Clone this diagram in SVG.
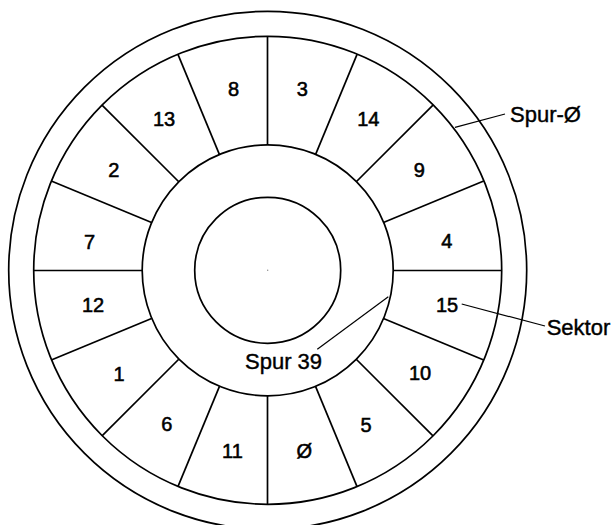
<svg xmlns="http://www.w3.org/2000/svg" width="614" height="525" viewBox="0 0 614 525">
<style>
.ln{fill:none;stroke:#000;stroke-width:1.7}
.th{fill:none;stroke:#000;stroke-width:1.2}
.num{font-family:"Liberation Sans",Arial,sans-serif;font-size:20px;fill:#000;stroke:#000;stroke-width:0.55;text-anchor:middle}
.lab{font-family:"Liberation Sans",Arial,sans-serif;font-size:22px;fill:#000;stroke:#000;stroke-width:0.4}
</style>
<rect width="614" height="525" fill="#fff"/>
<g id="disk">
<circle class="ln" cx="267.7" cy="270.3" r="259"/>
<circle class="ln" cx="267.7" cy="270.3" r="234"/>
<circle class="ln" cx="267.7" cy="270.3" r="125.5"/>
<circle class="ln" cx="267.7" cy="270.3" r="73"/>
<circle cx="267.7" cy="270.3" r="0.7" fill="#888"/>
</g>
<g id="dividers" class="ln">
<line x1="267.5" y1="145" x2="267.5" y2="36.5"/>
<line x1="315.53" y1="154.55" x2="357.05" y2="54.31"/>
<line x1="356.24" y1="181.76" x2="432.96" y2="105.04"/>
<line x1="383.45" y1="222.47" x2="483.69" y2="180.95"/>
<line x1="393" y1="270.5" x2="501.5" y2="270.5"/>
<line x1="383.45" y1="318.53" x2="483.69" y2="360.05"/>
<line x1="356.24" y1="359.24" x2="432.96" y2="435.96"/>
<line x1="315.53" y1="386.45" x2="357.05" y2="486.69"/>
<line x1="267.5" y1="396" x2="267.5" y2="504.5"/>
<line x1="219.47" y1="386.45" x2="177.95" y2="486.69"/>
<line x1="178.76" y1="359.24" x2="102.04" y2="435.96"/>
<line x1="151.55" y1="318.53" x2="51.31" y2="360.05"/>
<line x1="142" y1="270.5" x2="33.5" y2="270.5"/>
<line x1="151.55" y1="222.47" x2="51.31" y2="180.95"/>
<line x1="178.76" y1="181.76" x2="102.04" y2="105.04"/>
<line x1="219.47" y1="154.55" x2="177.95" y2="54.31"/>
</g>
<g id="s3"><text class="num" x="302.3" y="96">3</text></g>
<g id="s14"><text class="num" x="368.3" y="126">14</text></g>
<g id="s9"><text class="num" x="419.3" y="176.5">9</text></g>
<g id="s4"><text class="num" x="446.8" y="248">4</text></g>
<g id="s15"><text class="num" x="447" y="312.3">15</text></g>
<g id="s10"><text class="num" x="420" y="380">10</text></g>
<g id="s5"><text class="num" x="366" y="431.5">5</text></g>
<g id="s0"><text class="num" x="304.3" y="458.3">Ø</text></g>
<g id="s11"><text class="num" x="232.4" y="458.3">11</text></g>
<g id="s6"><text class="num" x="166.9" y="430.5">6</text></g>
<g id="s1"><text class="num" x="119" y="381">1</text></g>
<g id="s12"><text class="num" x="93" y="312.4">12</text></g>
<g id="s7"><text class="num" x="89.5" y="248.6">7</text></g>
<g id="s2"><text class="num" x="113.9" y="176.5">2</text></g>
<g id="s13"><text class="num" x="164.1" y="126">13</text></g>
<g id="s8"><text class="num" x="233.6" y="96">8</text></g>
<g id="connectors" class="th">
<line x1="455" y1="127.3" x2="505" y2="114"/>
<line x1="461.7" y1="304" x2="545" y2="326"/>
<line x1="388.3" y1="296.7" x2="317.3" y2="349.3"/>
</g>
<g id="label-spur0"><text class="lab" x="510" y="121.7">Spur-Ø</text></g>
<g id="label-sektor"><text class="lab" x="546.7" y="335">Sektor</text></g>
<g id="label-spur39"><text class="lab" x="245" y="369.3">Spur 39</text></g>
</svg>
